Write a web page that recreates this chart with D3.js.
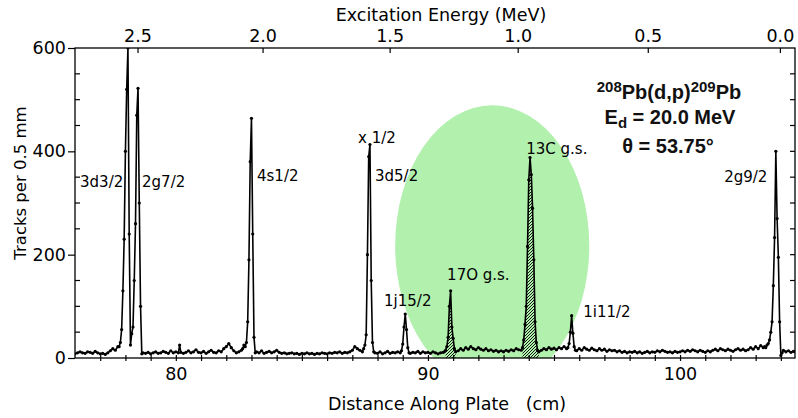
<!DOCTYPE html>
<html><head><meta charset="utf-8">
<script src="https://cdn.jsdelivr.net/npm/d3@7"></script>
<style>body{margin:0;background:#fff}svg{display:block}</style>
</head><body>
<svg id="chart" width="798" height="418"></svg>
<script>
// ---- data (distance along plate in cm, tracks per 0.5 mm) ----
const trackCounts = [
[76.0,8],[76.1,10],[76.2,12],[76.3,10],[76.4,9],[76.5,12],[76.6,11],[76.7,9],[76.8,13],[76.9,10],
[77.0,8],[77.1,9],[77.2,7],[77.3,10],[77.4,14],[77.5,18],[77.6,15],[77.7,22],[77.75,22],[77.8,30],
[77.85,55],[77.9,130],[77.95,230],[78.0,400],[78.05,520],[78.1,600],[78.15,240],[78.2,25],[78.25,47],[78.3,60],
[78.35,150],[78.4,260],[78.45,470],[78.5,522],[78.55,300],[78.6,100],[78.65,8],[78.7,10],[78.8,9],[78.9,11],
[79.0,8],[79.1,10],[79.2,12],[79.3,9],[79.4,10],[79.5,13],[79.6,11],[79.7,9],[79.8,14],[79.9,10],
[80.0,12],[80.1,10],[80.15,25],[80.2,11],[80.3,9],[80.4,11],[80.5,14],[80.6,10],[80.7,12],[80.8,16],
[80.9,11],[81.0,10],[81.1,13],[81.2,9],[81.3,12],[81.4,15],[81.5,11],[81.6,10],[81.7,14],[81.8,12],
[81.9,18],[82.0,22],[82.1,28],[82.2,20],[82.3,14],[82.4,10],[82.5,12],[82.6,15],[82.65,18],[82.7,25],
[82.75,22],[82.8,30],[82.85,70],[82.9,190],[82.95,380],[83.0,464],[83.05,240],[83.1,40],[83.15,10],[83.2,12],
[83.3,10],[83.4,14],[83.5,9],[83.6,11],[83.7,13],[83.8,10],[83.9,12],[84.0,15],[84.1,11],[84.2,9],
[84.3,10],[84.4,8],[84.5,9],[84.6,10],[84.7,8],[84.8,9],[84.9,7],[85.0,9],[85.1,8],[85.2,10],
[85.3,8],[85.4,9],[85.5,7],[85.6,9],[85.7,8],[85.8,10],[85.9,9],[86.0,8],[86.1,10],[86.2,9],
[86.3,11],[86.4,10],[86.5,12],[86.6,9],[86.7,11],[86.8,10],[86.9,12],[87.0,15],[87.1,22],[87.2,18],
[87.3,15],[87.4,12],[87.45,18],[87.5,25],[87.55,45],[87.6,200],[87.65,390],[87.7,413],[87.75,150],[87.8,30],
[87.85,12],[87.9,10],[88.0,9],[88.1,12],[88.2,8],[88.3,10],[88.4,13],[88.5,9],[88.6,11],[88.7,10],
[88.8,12],[88.9,10],[88.95,14],[89.0,27],[89.05,60],[89.1,85],[89.15,55],[89.2,20],[89.25,10],[89.3,9],
[89.4,11],[89.5,10],[89.6,13],[89.7,9],[89.8,12],[89.9,10],[90.0,11],[90.1,9],[90.2,12],[90.3,10],
[90.4,8],[90.5,10],[90.6,11],[90.65,12],[90.7,15],[90.75,22],[90.8,40],[90.85,100],[90.9,130],[90.95,60],
[91.0,38],[91.05,18],[91.1,12],[91.2,14],[91.3,18],[91.4,15],[91.5,20],[91.6,17],[91.7,22],[91.8,18],
[91.9,16],[92.0,20],[92.1,17],[92.2,15],[92.3,18],[92.4,14],[92.5,16],[92.6,13],[92.7,15],[92.8,12],
[92.9,14],[93.0,12],[93.1,15],[93.2,13],[93.3,16],[93.4,14],[93.5,18],[93.6,16],[93.7,15],[93.75,20],
[93.8,35],[93.85,65],[93.9,100],[93.95,216],[94.0,345],[94.05,388],[94.1,355],[94.15,290],[94.2,190],[94.25,70],
[94.3,30],[94.35,15],[94.4,12],[94.5,15],[94.6,18],[94.7,16],[94.8,20],[94.9,17],[95.0,19],[95.1,16],
[95.2,20],[95.3,18],[95.4,22],[95.5,18],[95.55,20],[95.6,28],[95.65,50],[95.7,82],[95.75,48],[95.8,22],
[95.85,15],[95.9,14],[96.0,18],[96.1,15],[96.2,20],[96.3,17],[96.4,15],[96.5,19],[96.6,16],[96.7,14],
[96.8,18],[96.9,15],[97.0,17],[97.1,13],[97.2,16],[97.3,14],[97.4,15],[97.5,12],[97.6,14],[97.7,11],
[97.8,13],[97.9,10],[98.0,12],[98.1,11],[98.2,13],[98.3,10],[98.4,12],[98.5,9],[98.6,11],[98.7,13],
[98.8,10],[98.9,12],[99.0,11],[99.1,14],[99.2,12],[99.3,15],[99.4,13],[99.5,11],[99.6,12],[99.7,10],
[99.8,13],[99.9,11],[100.0,12],[100.1,14],[100.2,12],[100.3,15],[100.4,13],[100.5,16],[100.6,14],[100.7,12],
[100.8,15],[100.9,13],[101.0,11],[101.1,14],[101.2,12],[101.3,15],[101.4,17],[101.5,14],[101.6,18],[101.7,16],
[101.8,14],[101.9,17],[102.0,15],[102.1,13],[102.2,16],[102.3,18],[102.4,15],[102.5,17],[102.6,14],[102.7,16],
[102.8,20],[102.9,17],[103.0,22],[103.1,18],[103.2,24],[103.3,20],[103.35,22],[103.4,20],[103.45,25],[103.5,28],
[103.55,35],[103.6,50],[103.65,70],[103.7,140],[103.75,233],[103.8,400],[103.85,270],[103.9,195],[103.95,70],[104.0,5],
[104.05,10],[104.1,15],[104.2,12],[104.3,14],[104.4,11],[104.5,13],[104.56,12]
];
const distanceDomain = [76, 104.56];
const countDomain = [0, 600];
const distanceTickLabels = [80, 90, 100];
const countTickLabels = [0, 200, 400, 600];
const energyTicks = [2.5, 2.0, 1.5, 1.0, 0.5, 0.0];           // MeV
const energyCalibrationCm = [78.5, 83.46, 88.5, 93.58, 98.74, 103.98]; // plate position of each energy
const peakNames = ["3d3/2","2g7/2","4s1/2","x 1/2","3d5/2","1j15/2","17O g.s.","13C g.s.","1i11/2","2g9/2"];
const contaminantRanges = [[90.7, 91.1], [93.75, 94.4]];     // hatched 17O and 13C peaks
const highlightEllipse = {cx: 92.55, cy: 217, rx: 3.85, ry: 272}; // in cm / counts

// ---- layout ----
const svg = d3.select("#chart");
const L = 75, R = 795, T = 48, B = 358;
const x = d3.scaleLinear().domain(distanceDomain).range([L, R]);
const y = d3.scaleLinear().domain(countDomain).range([B, T]);
const eCm = d3.scaleLinear().domain(energyTicks).range(energyCalibrationCm);
const xE = e => x(eCm(e));
const FONT = "'DejaVu Sans', Verdana, sans-serif";
const AXFS = "17.5px";

const defs = svg.append("defs");
defs.append("clipPath").attr("id","plotClip").append("rect")
  .attr("x", L).attr("y", T).attr("width", R - L).attr("height", B - T);
const pat = defs.append("pattern").attr("id","hatch").attr("patternUnits","userSpaceOnUse")
  .attr("width", 3).attr("height", 3);
pat.append("path").attr("d","M-1,1 l2,-2 M0,3 l3,-3 M2,4 l2,-2")
  .attr("stroke","#000").attr("stroke-width",0.9);

// green highlight ellipse
svg.append("ellipse").attr("clip-path","url(#plotClip)")
  .attr("cx", x(highlightEllipse.cx)).attr("cy", y(highlightEllipse.cy))
  .attr("rx", x(highlightEllipse.cx + highlightEllipse.rx) - x(highlightEllipse.cx))
  .attr("ry", y(0) - y(highlightEllipse.ry))
  .attr("fill", "#b2f0ae");

// hatched contaminant peaks
const area = d3.area().x(d => x(d[0])).y0(y(0)).y1(d => y(d[1]));
contaminantRanges.forEach(([a, b]) => {
  svg.append("path").datum(trackCounts.filter(d => d[0] >= a && d[0] <= b))
    .attr("d", area).attr("fill", "url(#hatch)").attr("stroke", "none");
});

// spectrum line and points
const g = svg.append("g").attr("clip-path","url(#plotClip)");
g.append("path").datum(trackCounts)
  .attr("d", d3.line().x(d => x(d[0])).y(d => y(d[1])))
  .attr("fill","none").attr("stroke","#000").attr("stroke-width",1.6).attr("stroke-linejoin","round");
g.selectAll("circle").data(trackCounts).join("circle")
  .attr("cx", d => x(d[0])).attr("cy", d => y(d[1])).attr("r", 1.6).attr("fill","#000");

// frame
svg.append("rect").attr("x", L).attr("y", T).attr("width", R - L).attr("height", B - T)
  .attr("fill","none").attr("stroke","#000").attr("stroke-width",1.3);

function styleAxis(sel){
  sel.select(".domain").remove();
  sel.selectAll("line").attr("stroke","#000").attr("stroke-width",1.2);
  sel.selectAll("text").attr("fill","#000").style("font-family",FONT).style("font-size",AXFS);
}
// bottom axis
const xMinor = d3.range(77, 105, 1);
const bAx = svg.append("g").attr("transform",`translate(0,${B})`)
  .call(d3.axisBottom(x).tickValues(xMinor).tickSize(3).tickPadding(7)
    .tickFormat(d => distanceTickLabels.includes(d) ? d : ""));
styleAxis(bAx);
bAx.selectAll(".tick").append("line").attr("y2", -3).attr("stroke","#000").attr("stroke-width",1.2);

// left axis
const lAx = svg.append("g").attr("transform",`translate(${L},0)`)
  .call(d3.axisLeft(y).tickValues(countTickLabels).tickSize(7).tickPadding(2));
styleAxis(lAx);
const yMinor = d3.range(50, 600, 50).filter(v => !countTickLabels.includes(v));
svg.append("g").selectAll("line").data(yMinor).join("line")
  .attr("x1", L).attr("x2", L + 5).attr("y1", d => y(d)).attr("y2", d => y(d))
  .attr("stroke","#000").attr("stroke-width",1.2);
// right axis ticks
svg.append("g").selectAll("line").data(d3.range(50, 600, 50)).join("line")
  .attr("x1", R).attr("x2", R - 5).attr("y1", d => y(d)).attr("y2", d => y(d))
  .attr("stroke","#000").attr("stroke-width",1.2);

// top energy axis
const tAx = svg.append("g").attr("transform",`translate(0,${T})`);
tAx.selectAll("line").data(energyTicks).join("line")
  .attr("x1", d => xE(d)).attr("x2", d => xE(d)).attr("y1", 0).attr("y2", 5)
  .attr("stroke","#000").attr("stroke-width",1.2);
tAx.selectAll("text").data(energyTicks).join("text")
  .attr("x", d => xE(d)).attr("y", -6).attr("text-anchor","middle")
  .style("font-family",FONT).style("font-size",AXFS).text(d => d.toFixed(1));

// axis titles
svg.append("text").attr("x", 441).attr("y", 21).attr("text-anchor","middle")
  .style("font-family",FONT).style("font-size",AXFS).text("Excitation Energy (MeV)");
svg.append("text").attr("x", 447).attr("y", 410).attr("text-anchor","middle")
  .style("font-family",FONT).style("font-size",AXFS).style("white-space","pre")
  .text("Distance Along Plate   (cm)");
svg.append("text").attr("transform","translate(26,183) rotate(-90)").attr("text-anchor","middle")
  .style("font-family",FONT).style("font-size","16.5px").text("Tracks per 0.5 mm");

// peak labels (anchor in cm / counts)
const labelAnchor = [[76.2,341],[78.66,341],[83.22,354],[87.23,426],[87.9,354],
                     [88.26,112],[90.76,161],[93.9,406],[96.16,89],[101.75,351]];
svg.append("g").selectAll("text").data(peakNames).join("text")
  .attr("x", (d,i) => x(labelAnchor[i][0])).attr("y", (d,i) => y(labelAnchor[i][1]))
  .attr("dy","0.36em").style("font-family",FONT).style("font-size","15px").text(d => d);

// reaction annotation
const AF = "'Liberation Sans', Arial, sans-serif";
const ann = svg.append("g").style("font-family",AF).style("font-weight","bold").attr("fill","#111");
const t1 = ann.append("text").attr("x", 669).attr("y", 99).attr("text-anchor","middle").style("font-size","20px");
t1.append("tspan").attr("dy",-7).style("font-size","15px").text("208");
t1.append("tspan").attr("dy",7).text("Pb(d,p)");
t1.append("tspan").attr("dy",-7).style("font-size","15px").text("209");
t1.append("tspan").attr("dy",7).text("Pb");
const t2 = ann.append("text").attr("x", 670).attr("y", 124).attr("text-anchor","middle").style("font-size","20px");
t2.append("tspan").text("E");
t2.append("tspan").attr("dy",4).style("font-size","15px").text("d");
t2.append("tspan").attr("dy",-4).text(" = 20.0 MeV");
ann.append("text").attr("x", 668).attr("y", 153).attr("text-anchor","middle").style("font-size","20px")
  .text("θ = 53.75°");
</script>
</body></html>
